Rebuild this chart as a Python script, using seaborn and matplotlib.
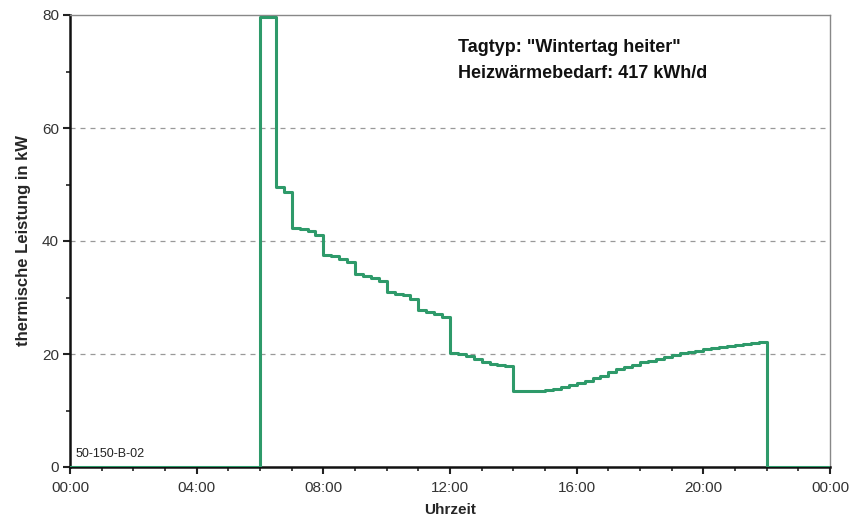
import numpy as np
import pandas as pd
import matplotlib
matplotlib.use("Agg")
import matplotlib.pyplot as plt
from matplotlib.ticker import MultipleLocator
import seaborn as sns

# quarter-hour values from 06:00 to 21:45 (kW)
start_hour = 6.0
quarter_values = [
    79.6, 79.6, 49.6, 48.7,
    42.3, 42.1, 41.8, 41.0,
    37.6, 37.3, 36.9, 36.2,
    34.1, 33.8, 33.5, 33.0,
    31.0, 30.7, 30.4, 29.7,
    27.8, 27.5, 27.1, 26.5,
    20.2, 20.0, 19.6, 19.1,
    18.6, 18.3, 18.1, 17.8,
    13.4, 13.5, 13.5, 13.5,
    13.6, 13.8, 14.1, 14.5,
    14.9, 15.3, 15.7, 16.1,
    16.9, 17.3, 17.7, 18.1,
    18.5, 18.8, 19.1, 19.4,
    19.8, 20.1, 20.3, 20.6,
    20.8, 21.0, 21.2, 21.4,
    21.6, 21.8, 21.9, 22.1,
]
x_tick_pos = [0, 4, 8, 12, 16, 20, 24]
x_tick_labels = ["00:00", "04:00", "08:00", "12:00", "16:00", "20:00", "00:00"]
y_ticks = [0, 20, 40, 60, 80]
title_lines = ['Tagtyp: "Wintertag heiter"', "Heizwärmebedarf: 417 kWh/d"]
code_label = "50-150-B-02"

times = [0.0] + [start_hour + 0.25 * i for i in range(len(quarter_values))] + [22.0, 24.0]
values = [0.0] + quarter_values + [0.0, 0.0]
df = pd.DataFrame({"Uhrzeit": times, "Leistung": values})

sns.set_style("white")
plt.rcParams["font.family"] = ["Liberation Sans", "DejaVu Sans"]

fig = plt.figure(figsize=(8.52, 5.21), dpi=100)
ax = fig.add_axes([70 / 852, 54 / 521, 760 / 852, 452 / 521])

sns.lineplot(data=df, x="Uhrzeit", y="Leistung", ax=ax, drawstyle="steps-post",
             color="#2e9a6a", linewidth=2.2, zorder=3)

ax.set_xlim(0, 24)
ax.set_ylim(0, 80)
ax.set_xticks(x_tick_pos)
ax.set_xticklabels(x_tick_labels)
ax.set_yticks(y_ticks)
ax.xaxis.set_minor_locator(MultipleLocator(1))
ax.yaxis.set_minor_locator(MultipleLocator(10))
ax.tick_params(axis="both", which="major", direction="out", length=5, width=1.5,
               labelsize=11, colors="#222222", labelcolor="#333333")
ax.tick_params(axis="x", which="major", pad=5)
ax.tick_params(axis="y", which="major", pad=3)
ax.tick_params(axis="both", which="minor", direction="out", length=3, width=1.2, colors="#222222")
ax.tick_params(axis="x", which="both", bottom=True)
ax.tick_params(axis="y", which="both", left=True)

for gy in [20, 40, 60]:
    ax.axhline(gy, color="#999999", linestyle=(0, (4, 4)), linewidth=0.9, zorder=1)

for side in ["left", "bottom"]:
    ax.spines[side].set_color("#111111")
    ax.spines[side].set_linewidth(1.8)
for side in ["top", "right"]:
    ax.spines[side].set_color("#888888")
    ax.spines[side].set_linewidth(1.0)
    ax.spines[side].set_visible(True)

ax.set_xlabel("Uhrzeit", fontsize=11, fontweight="bold", labelpad=6)
ax.set_ylabel("thermische Leistung in kW", fontsize=12, fontweight="bold", labelpad=8)

ax.text(0.511, 0.927, title_lines[0], transform=ax.transAxes, fontsize=13,
        fontweight="bold", ha="left", va="center", color="#111111")
ax.text(0.511, 0.871, title_lines[1], transform=ax.transAxes, fontsize=13,
        fontweight="bold", ha="left", va="center", color="#111111")
ax.text(0.007, 0.015, code_label, transform=ax.transAxes, fontsize=9,
        ha="left", va="bottom", color="#222222")

fig.savefig("out.png", dpi=100, facecolor="white")
